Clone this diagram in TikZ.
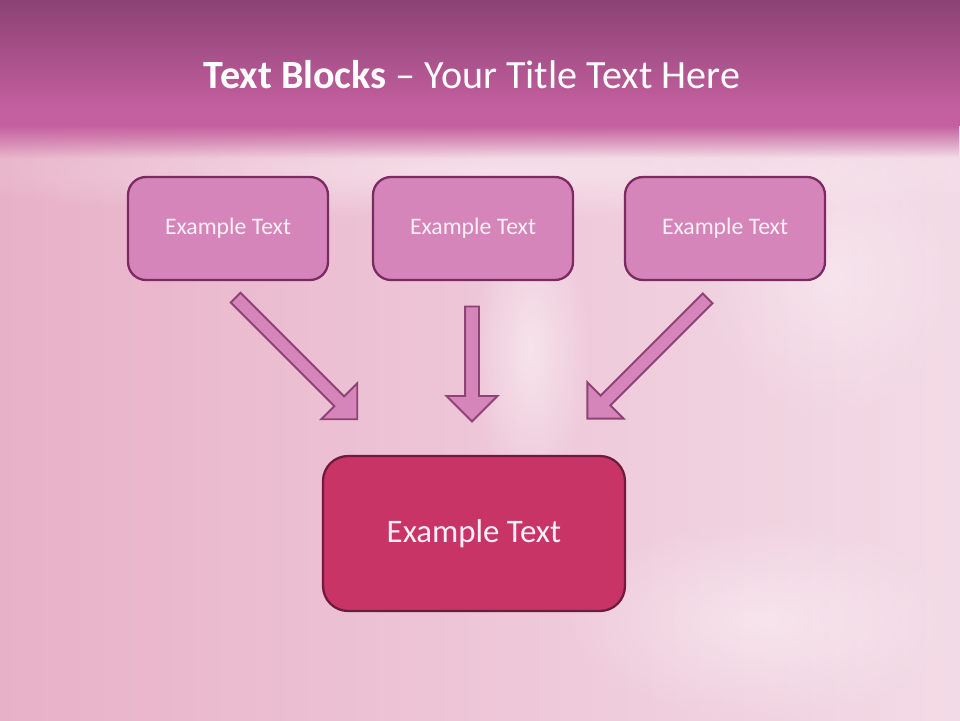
\documentclass[tikz,border=0pt]{standalone}
\usepackage{fontspec}
\setmainfont{Carlito}
\usetikzlibrary{shapes.arrows,fadings}
\definecolor{titletop}{HTML}{8B4274}
\definecolor{titlebot}{HTML}{C4609F}
\definecolor{bgleft}{HTML}{E8B1C8}
\definecolor{bgright}{HTML}{F3DBE6}
\definecolor{boxfill}{HTML}{D585BA}
\definecolor{boxline}{HTML}{7B2B62}
\definecolor{mainfill}{HTML}{C93466}
\definecolor{mainline}{HTML}{6F1B3D}
\definecolor{arrowline}{HTML}{8E4376}
\definecolor{boxtext}{HTML}{FCEFF6}
\tikzfading[name=fadedown,top color=transparent!0,bottom color=transparent!100]
\tikzfading[name=softedge,inner color=transparent!0,outer color=transparent!100]
\tikzset{
  smallbox/.style={rectangle,draw=boxline,fill=boxfill,line width=1.3pt,rounded corners=0.36cm,minimum width=4cm,minimum height=2.06cm,text=boxtext,font=\fontsize{13.5}{16}\selectfont},
  bigbox/.style={rectangle,draw=mainline,fill=mainfill,line width=1.3pt,rounded corners=0.5cm,minimum width=6.04cm,minimum height=3.1cm,text=boxtext,font=\fontsize{18.7}{22}\selectfont},
  blockarrow/.style={single arrow,draw=arrowline,fill=boxfill,line width=1.1pt,inner sep=0.12cm,single arrow head extend=0.37cm,single arrow tip angle=90}
}
\begin{document}
\begin{tikzpicture}[x=0.02cm,y=-0.02cm]
  \useasboundingbox (0,0) rectangle (960,720);
  % draw background
  \shade[left color=bgleft,right color=bgright] (0,0) rectangle (960,720);
  \fill[white,opacity=0.5,path fading=softedge] (470,200) rectangle (590,500);
  \fill[white,opacity=0.4,path fading=softedge] (560,520) rectangle (960,720);
  \fill[white,opacity=0.35,path fading=softedge] (700,130) rectangle (960,420);
  \fill[white,opacity=0.45,path fading=softedge] (-100,120) rectangle (1060,220);
  % draw title bar
  \shade[top color=titletop,bottom color=titlebot] (0,0) rectangle (960,110);
  \fill[titlebot] (0,109) rectangle (960,126);
  \fill[titlebot,path fading=fadedown,fit fading=true] (0,125.5) rectangle (960,158);
  % draw title text
  \node at(472,75)[text=white,font=\fontsize{22.8}{27}\selectfont](title){\textbf{Text Blocks} -- Your Title Text Here};
  % draw upper boxes
  \node at(228,228.5)[smallbox](leftbox){Example Text};
  \node at(473,228.5)[smallbox](middlebox){Example Text};
  \node at(725,228.5)[smallbox](rightbox){Example Text};
  % draw lower box
  \node at(474,533.5)[bigbox](mainbox){Example Text};
  % draw arrows between the boxes
  \node at(294,356)[blockarrow,rotate=-45,minimum height=3.44cm](leftarrow){};
  \node at(472,360.5)[blockarrow,rotate=-90,minimum height=2.3cm](middlearrow){};
  \node at(650,356)[blockarrow,rotate=-135,minimum height=3.4cm](rightarrow){};
\end{tikzpicture}
\end{document}
